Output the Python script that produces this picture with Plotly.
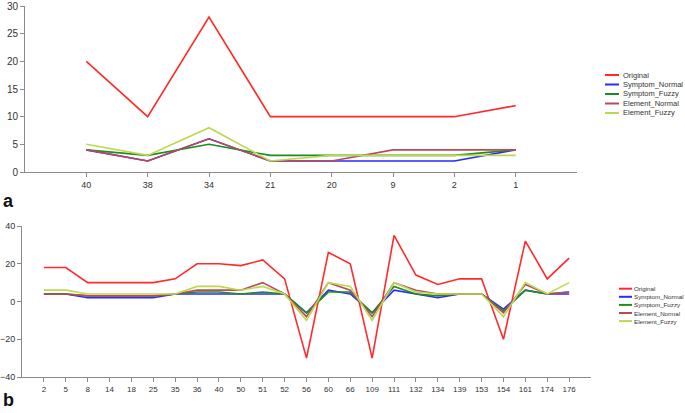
import plotly.graph_objects as go

# ---- data: panel a ----
cats_a = ["40", "38", "34", "21", "20", "9", "2", "1"]
a_original = [20, 10, 28, 10, 10, 10, 10, 12]
a_symptom_normal = [4, 2, 6, 2, 2, 2, 2, 4]
a_symptom_fuzzy = [4, 3, 5, 3, 3, 3, 3, 4]
a_element_normal = [4, 2, 6, 2, 2, 4, 4, 4]
a_element_fuzzy = [5, 3, 8, 2, 3, 3, 3, 3]

# ---- data: panel b ----
cats_b = ["2", "5", "8", "14", "18", "25", "35", "36", "40", "50", "51", "52", "56",
          "60", "66", "109", "111", "132", "134", "139", "153", "154", "161", "174", "176"]
b_original = [18, 18, 10, 10, 10, 10, 12, 20, 20, 19, 22, 12, -30,
              26, 20, -30, 35, 14, 9, 12, 12, -20, 32, 12, 23]
b_symptom_normal = [4, 4, 2, 2, 2, 2, 4, 4, 4, 4, 4, 4, -6,
                    6, 4, -6, 6, 4, 2, 4, 4, -4, 6, 4, 4]
b_symptom_fuzzy = [4, 4, 3, 3, 3, 3, 4, 5, 5, 4, 5, 4, -6,
                   5, 5, -6, 8, 4, 3, 4, 4, -5, 6, 4, 5]
b_element_normal = [4, 4, 3, 3, 3, 3, 4, 6, 6, 6, 10, 4, -8,
                    10, 6, -8, 10, 6, 4, 4, 4, -6, 9, 4, 5]
b_element_fuzzy = [6, 6, 4, 4, 4, 4, 4, 8, 8, 6, 8, 4, -10,
                   10, 8, -10, 10, 5, 4, 4, 4, -8, 10, 4, 10]

names = ["Original", "Symptom_Normal", "Symptom_Fuzzy", "Element_Normal", "Element_Fuzzy"]
colors = ["#ff2a2a", "#2a2aff", "#1e8c1e", "#b84a5a", "#bcd94e"]

fig = go.Figure()
series_a = [a_original, a_symptom_normal, a_symptom_fuzzy, a_element_normal, a_element_fuzzy]
series_b = [b_original, b_symptom_normal, b_symptom_fuzzy, b_element_normal, b_element_fuzzy]

for n, c, ys in zip(names, colors, series_a):
    fig.add_trace(go.Scatter(x=cats_a, y=ys, name=n, mode="lines",
                             line=dict(color=c, width=1.6), showlegend=False,
                             xaxis="x", yaxis="y"))
for n, c, ys in zip(names, colors, series_b):
    fig.add_trace(go.Scatter(x=cats_b, y=ys, name=n, mode="lines",
                             line=dict(color=c, width=1.6), showlegend=False,
                             xaxis="x2", yaxis="y2"))

W, H = 685, 413
def fx(p): return p / W
def fy(p): return 1 - p / H

axis_common = dict(showgrid=False, zeroline=False, showline=True,
                   linecolor="#8a8a8a", linewidth=1, ticks="outside",
                   tickcolor="#8a8a8a", ticklen=4)

# compact legends drawn as shapes + text (entries tighter than plotly's legend allows)
shapes = []
annotations = []
legend_specs = [
    # x0, x1, text x, first y, step, font size
    (605, 619, 622, 75.0, 9.5, 7.5),
    (619, 632, 633, 288.7, 8.1, 6.2),
]
for lx0, lx1, tx, y0, step, fs in legend_specs:
    for i, (n, c) in enumerate(zip(names, colors)):
        yy = y0 + i * step
        shapes.append(dict(type="line", xref="paper", yref="paper",
                           x0=fx(lx0), x1=fx(lx1), y0=fy(yy), y1=fy(yy),
                           line=dict(color=c, width=2)))
        annotations.append(dict(text=n, x=fx(tx), y=fy(yy), xref="paper", yref="paper",
                                xanchor="left", yanchor="middle", showarrow=False,
                                borderpad=0,
                                font=dict(size=fs, color="#333333")))

annotations += [
    dict(text="<b>a</b>", x=fx(1), y=fy(201), xref="paper", yref="paper",
         xanchor="left", yanchor="middle", showarrow=False,
         font=dict(size=18, color="#111111")),
    dict(text="<b>b</b>", x=fx(1), y=fy(400), xref="paper", yref="paper",
         xanchor="left", yanchor="middle", showarrow=False,
         font=dict(size=18, color="#111111")),
]

fig.update_layout(
    width=W, height=H,
    margin=dict(l=0, r=0, t=0, b=0, autoexpand=False),
    showlegend=False,
    paper_bgcolor="white", plot_bgcolor="white",
    font=dict(family="Liberation Sans, Arial, sans-serif", color="#333333"),
    xaxis=dict(domain=[fx(25), fx(577)], anchor="y", type="category",
               categoryorder="array", categoryarray=cats_a,
               range=[-1, 8], tickfont=dict(size=9), **axis_common),
    yaxis=dict(domain=[fy(172), fy(6)], anchor="x", range=[0, 30],
               tickvals=[0, 5, 10, 15, 20, 25, 30], tickfont=dict(size=10),
               **axis_common),
    xaxis2=dict(domain=[fx(22), fx(591)], anchor="y2", type="category",
                categoryorder="array", categoryarray=cats_b,
                range=[-1, 25], tickfont=dict(size=8), **axis_common),
    yaxis2=dict(domain=[fy(377), fy(226)], anchor="x2", range=[-40, 40],
                tickvals=[-40, -20, 0, 20, 40], tickfont=dict(size=9),
                **axis_common),
    shapes=shapes,
    annotations=annotations,
)

fig.write_html("out.html", config={"displayModeBar": False},
               post_script="document.body.style.margin='0';document.body.style.overflow='hidden';")
